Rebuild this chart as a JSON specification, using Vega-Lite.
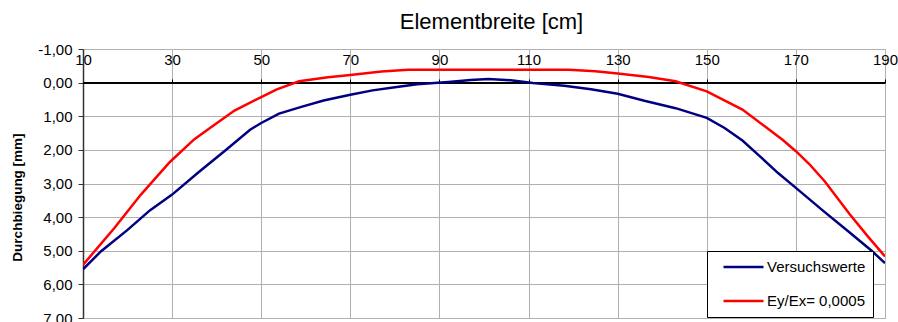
{
  "$schema": "https://vega.github.io/schema/vega-lite/v6.json",
  "autosize": "none",
  "width": 802,
  "height": 269,
  "padding": {"left": 83, "top": 49, "right": 13, "bottom": 4},
  "config": {
    "font": "Liberation Sans",
    "view": {"stroke": "#b0b0b0", "strokeWidth": 1}
  },
  "data": {
    "values": [
      {"x": 10, "y": 5.55, "s": "Versuchswerte"},
      {"x": 14, "y": 5.02, "s": "Versuchswerte"},
      {"x": 20, "y": 4.38, "s": "Versuchswerte"},
      {"x": 25, "y": 3.8, "s": "Versuchswerte"},
      {"x": 30, "y": 3.33, "s": "Versuchswerte"},
      {"x": 36, "y": 2.66, "s": "Versuchswerte"},
      {"x": 42, "y": 2.01, "s": "Versuchswerte"},
      {"x": 47.5, "y": 1.4, "s": "Versuchswerte"},
      {"x": 50, "y": 1.2, "s": "Versuchswerte"},
      {"x": 54, "y": 0.92, "s": "Versuchswerte"},
      {"x": 59, "y": 0.72, "s": "Versuchswerte"},
      {"x": 64, "y": 0.53, "s": "Versuchswerte"},
      {"x": 70, "y": 0.36, "s": "Versuchswerte"},
      {"x": 75, "y": 0.23, "s": "Versuchswerte"},
      {"x": 80, "y": 0.14, "s": "Versuchswerte"},
      {"x": 85, "y": 0.05, "s": "Versuchswerte"},
      {"x": 92, "y": -0.02, "s": "Versuchswerte"},
      {"x": 97, "y": -0.08, "s": "Versuchswerte"},
      {"x": 101, "y": -0.11, "s": "Versuchswerte"},
      {"x": 106, "y": -0.07, "s": "Versuchswerte"},
      {"x": 111, "y": 0.01, "s": "Versuchswerte"},
      {"x": 118, "y": 0.09, "s": "Versuchswerte"},
      {"x": 124, "y": 0.2, "s": "Versuchswerte"},
      {"x": 130, "y": 0.33, "s": "Versuchswerte"},
      {"x": 136, "y": 0.54, "s": "Versuchswerte"},
      {"x": 143, "y": 0.76, "s": "Versuchswerte"},
      {"x": 150, "y": 1.05, "s": "Versuchswerte"},
      {"x": 154, "y": 1.35, "s": "Versuchswerte"},
      {"x": 158, "y": 1.72, "s": "Versuchswerte"},
      {"x": 162, "y": 2.2, "s": "Versuchswerte"},
      {"x": 166, "y": 2.69, "s": "Versuchswerte"},
      {"x": 170, "y": 3.13, "s": "Versuchswerte"},
      {"x": 176, "y": 3.8, "s": "Versuchswerte"},
      {"x": 182, "y": 4.45, "s": "Versuchswerte"},
      {"x": 187, "y": 5.0, "s": "Versuchswerte"},
      {"x": 190, "y": 5.37, "s": "Versuchswerte"},
      {"x": 10, "y": 5.42, "s": "Ey/Ex= 0,0005"},
      {"x": 17, "y": 4.33, "s": "Ey/Ex= 0,0005"},
      {"x": 23, "y": 3.33, "s": "Ey/Ex= 0,0005"},
      {"x": 29.5, "y": 2.36, "s": "Ey/Ex= 0,0005"},
      {"x": 35, "y": 1.68, "s": "Ey/Ex= 0,0005"},
      {"x": 38.5, "y": 1.35, "s": "Ey/Ex= 0,0005"},
      {"x": 44, "y": 0.83, "s": "Ey/Ex= 0,0005"},
      {"x": 50, "y": 0.43, "s": "Ey/Ex= 0,0005"},
      {"x": 53.5, "y": 0.2, "s": "Ey/Ex= 0,0005"},
      {"x": 58.5, "y": -0.04, "s": "Ey/Ex= 0,0005"},
      {"x": 65, "y": -0.16, "s": "Ey/Ex= 0,0005"},
      {"x": 70, "y": -0.23, "s": "Ey/Ex= 0,0005"},
      {"x": 77, "y": -0.33, "s": "Ey/Ex= 0,0005"},
      {"x": 83, "y": -0.38, "s": "Ey/Ex= 0,0005"},
      {"x": 90, "y": -0.38, "s": "Ey/Ex= 0,0005"},
      {"x": 100, "y": -0.38, "s": "Ey/Ex= 0,0005"},
      {"x": 110, "y": -0.38, "s": "Ey/Ex= 0,0005"},
      {"x": 119, "y": -0.38, "s": "Ey/Ex= 0,0005"},
      {"x": 125, "y": -0.34, "s": "Ey/Ex= 0,0005"},
      {"x": 130, "y": -0.27, "s": "Ey/Ex= 0,0005"},
      {"x": 137, "y": -0.17, "s": "Ey/Ex= 0,0005"},
      {"x": 143, "y": -0.04, "s": "Ey/Ex= 0,0005"},
      {"x": 150, "y": 0.26, "s": "Ey/Ex= 0,0005"},
      {"x": 158, "y": 0.8, "s": "Ey/Ex= 0,0005"},
      {"x": 163, "y": 1.3, "s": "Ey/Ex= 0,0005"},
      {"x": 167, "y": 1.7, "s": "Ey/Ex= 0,0005"},
      {"x": 170, "y": 2.04, "s": "Ey/Ex= 0,0005"},
      {"x": 173, "y": 2.42, "s": "Ey/Ex= 0,0005"},
      {"x": 176.5, "y": 2.94, "s": "Ey/Ex= 0,0005"},
      {"x": 182, "y": 3.9, "s": "Ey/Ex= 0,0005"},
      {"x": 186, "y": 4.55, "s": "Ey/Ex= 0,0005"},
      {"x": 190, "y": 5.17, "s": "Ey/Ex= 0,0005"}
    ]
  },
  "resolve": {"scale": {"x": "independent"}},
  "layer": [
    {
      "mark": {"type": "rule", "color": "#000000", "strokeWidth": 1},
      "encoding": {
        "x": {
          "datum": 10,
          "type": "quantitative",
          "scale": {"domain": [10, 190], "nice": false, "zero": false},
          "axis": {
            "orient": "top",
            "offset": -34,
            "values": [10, 30, 50, 70, 90, 110, 130, 150, 170, 190],
            "tickCount": 12,
            "title": null,
            "labels": false,
            "grid": false,
            "domain": false,
            "ticks": true,
            "tickSize": 4,
            "tickColor": "#000000",
            "tickWidth": 1
          }
        },
        "x2": {"datum": 190},
        "y": {
          "datum": 0,
          "type": "quantitative",
          "scale": {"domain": [-1, 7], "nice": false, "zero": false, "reverse": true},
          "axis": {
            "values": [-1, 0, 1, 2, 3, 4, 5, 6, 7],
            "tickCount": 12,
            "labelExpr": "(datum.value < 0 ? '-' : '') + replace(format(abs(datum.value), '.2f'), '.', ',')",
            "title": "Durchbiegung [mm]",
            "titleFontSize": 13.5,
            "titleFontWeight": "bold",
            "titleColor": "#000000",
            "titleX": -66,
            "titleY": 148,
            "titleBaseline": "middle",
            "titleAlign": "center",
            "domainColor": "#333333",
            "domainWidth": 1.5,
            "tickColor": "#333333",
            "tickSize": 5,
            "labelPadding": 6,
            "labelFontSize": 15,
            "labelColor": "#000000",
            "labelFlush": false,
            "labelOverlap": false,
            "grid": true,
            "gridColor": "#b0b0b0",
            "gridWidth": 1
          }
        }
      }
    },
    {
      "mark": {"type": "line", "strokeWidth": 2.5, "clip": true},
      "encoding": {
        "x": {
          "field": "x",
          "type": "quantitative",
          "scale": {"domain": [10, 190], "nice": false, "zero": false},
          "axis": {
            "orient": "top",
            "values": [10, 30, 50, 70, 90, 110, 130, 150, 170, 190],
            "tickCount": 12,
            "title": "Elementbreite [cm]",
            "titleFontSize": 22,
            "titleFontWeight": "normal",
            "titleColor": "#000000",
            "titleX": 408,
            "titleY": -21,
            "titleBaseline": "alphabetic",
            "titleAlign": "center",
            "ticks": false,
            "domain": false,
            "labelBaseline": "top",
            "labelPadding": -3,
            "labelFontSize": 15,
            "labelColor": "#000000",
            "labelFlush": false,
            "labelOverlap": false,
            "grid": true,
            "gridColor": "#b0b0b0",
            "gridWidth": 1
          }
        },
        "y": {
          "field": "y",
          "type": "quantitative"
        },
        "color": {
          "field": "s",
          "type": "nominal",
          "scale": {"domain": ["Versuchswerte", "Ey/Ex= 0,0005"], "range": ["#000080", "#ff0000"]},
          "legend": {
            "title": null,
            "orient": "none",
            "legendX": 624,
            "legendY": 202,
            "direction": "vertical",
            "symbolType": "stroke",
            "symbolSize": 1600,
            "symbolStrokeWidth": 2.5,
            "symbolOffset": 8,
            "clipHeight": 18,
            "labelFontSize": 15,
            "labelColor": "#000000",
            "labelOffset": 2,
            "labelExpr": "datum.label + '\u00a0\u00a0\u00a0'",
            "rowPadding": 16,
            "padding": 7,
            "strokeColor": "#000000",
            "fillColor": "#ffffff",
            "cornerRadius": 0
          }
        }
      }
    }
  ]
}
